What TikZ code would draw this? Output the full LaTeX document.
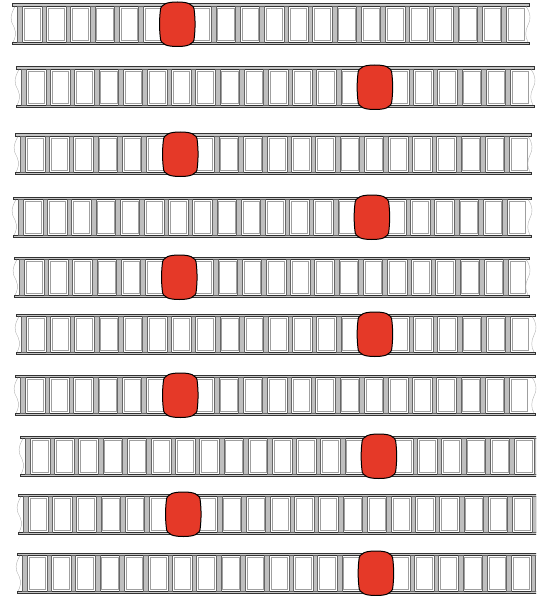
\documentclass[tikz,border=0pt]{standalone}
\usepackage{tikz}
\usetikzlibrary{calc}
\definecolor{blobred}{RGB}{229,57,40}

\begin{document}
\begin{tikzpicture}[x=1pt,y=-1pt,
  rail/.style={fill=gray!45,draw=black!80,line width=0.6pt},
  rung/.style={fill=gray!50,draw=black!60,line width=0.5pt},
  cell/.style={draw=gray!75,line width=0.45pt},
  cut/.style={draw=gray!60,line width=0.4pt},
  blob/.style={fill=blobred,draw=black,line width=1pt}]
\useasboundingbox (0,0) rectangle (536,596);
\clip (0,0) rectangle (536,596);
\foreach \yt/\xl/\xr/\k in {5/12/529/6, 68/16/534/14, 135/15/531/6, 198/13/531/14, 258/14/529/6,
                           315/16/535/14, 376/15/535/6, 437/20/545/14, 495/18/545/6, 554/17/545/14}{
  \pgfmathsetmacro{\yb}{\yt+38.5}
  \pgfmathtruncatemacro{\n}{(\xr-\xl-16)/24.2}
  \foreach \i in {0,...,\n}{
    \pgfmathsetmacro{\xa}{\xl+8+\i*24.2}
    \pgfmathsetmacro{\xb}{min(\xa+24.2-4,\xr-3.5)}
    \draw[cell] (\xa+4,\yt+3.6) rectangle (\xb,\yb-3.6);
  }
  \draw[rail] (\xl,\yt-1.2) rectangle (\xr,\yt+1.4);
  \draw[rail] (\xl,\yb-1.4) rectangle (\xr,\yb+1.2);
  \foreach \i in {0,...,\n}{
    \pgfmathsetmacro{\xa}{\xl+8+\i*24.2}
    \draw[rung] (\xa-2.3,\yt+1.4) rectangle (\xa+2.3,\yb-1.4);
  }
  \draw[cut] (\xl+3,\yt+1.5) .. controls (\xl-2,\yt+10) and (\xl-2,\yt+16) .. (\xl+2,\yt+22)
    .. controls (\xl+5,\yt+28) and (\xl+3,\yt+34) .. (\xl+1,\yb-1.5);
  \draw[cut] (\xr-3,\yt+1.5) .. controls (\xr+2,\yt+8) and (\xr+2,\yt+15) .. (\xr-1,\yt+20)
    .. controls (\xr-4,\yt+26) and (\xr-4,\yt+32) .. (\xr-1,\yb-1.5);
  \pgfmathsetmacro{\cx}{\xl+8+(\k+0.5)*24.2}
  \draw[blob] (\cx-17,\yt+6) .. controls (\cx-17,\yt-1.5) and (\cx-9,\yt-3) .. (\cx,\yt-3)
    .. controls (\cx+9,\yt-3) and (\cx+17,\yt-1.5) .. (\cx+17,\yt+6)
    .. controls (\cx+18,\yt+15) and (\cx+18,\yb-15) .. (\cx+17,\yb-6)
    .. controls (\cx+17,\yb+1.5) and (\cx+9,\yb+3) .. (\cx,\yb+3)
    .. controls (\cx-9,\yb+3) and (\cx-17,\yb+1.5) .. (\cx-17,\yb-6)
    .. controls (\cx-18,\yb-15) and (\cx-18,\yt+15) .. cycle;
}
\end{tikzpicture}
\end{document}
